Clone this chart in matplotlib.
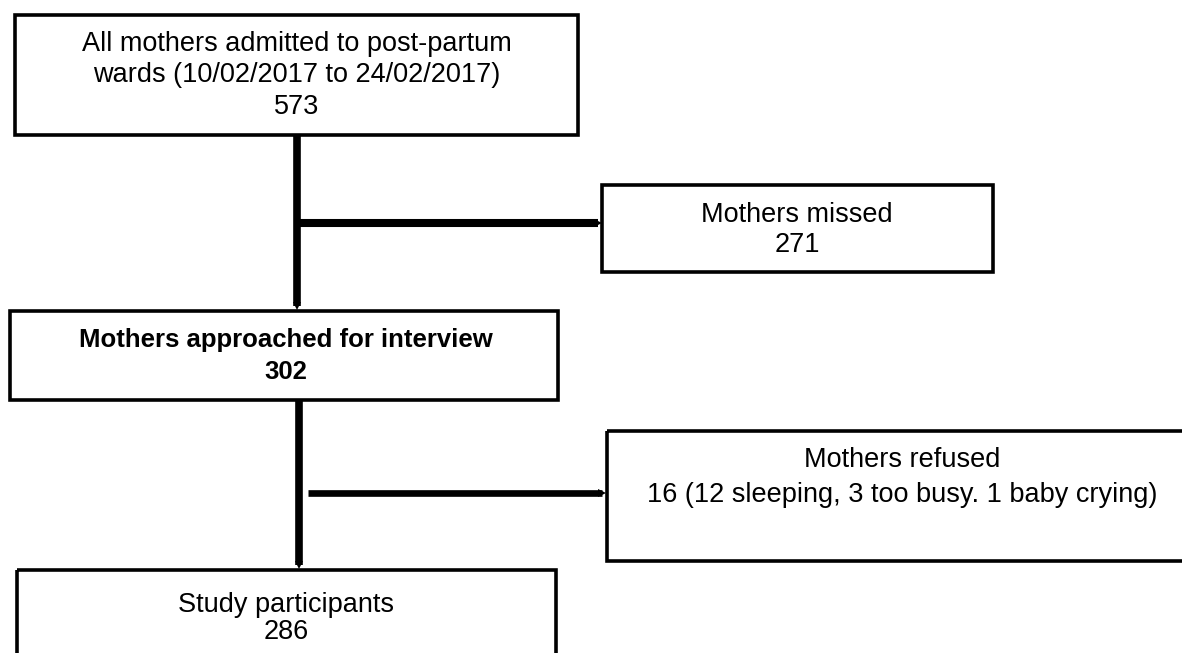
import matplotlib
matplotlib.use("Agg")
import matplotlib.pyplot as plt
from matplotlib.patches import Rectangle

# flow chart data
stages = [
    "All mothers admitted to post-partum\nwards (10/02/2017 to 24/02/2017)",
    "Mothers missed",
    "Mothers approached for interview",
    "Mothers refused",
    "Study participants",
]
counts = ["573", "271", "302", "16 (12 sleeping, 3 too busy. 1 baby crying)", "286"]
bold_stage = [False, False, True, False, False]

# layout in pixels: (left, top, right, bottom), text centre x, first line y
boxes = [
    (15, 15, 578, 135),
    (602, 185, 993, 272),
    (10, 311, 558, 400),
    (607, 431, 1200, 561),
    (17, 570, 556, 720),
]
text_x = [297, 797, 286, 902, 286]
text_y = [44, 215, 340, 460, 605]
line_step = [31.5, 30, 32, 35, 27]

plt.rcParams["font.family"] = ["Liberation Sans", "DejaVu Sans"]

fig = plt.figure(figsize=(11.82, 6.53), dpi=100)
ax = fig.add_axes([0, 0, 1, 1])
ax.set_xlim(0, 1182)
ax.set_ylim(653, 0)
ax.axis("off")

for i, (l, t, r, b) in enumerate(boxes):
    ax.add_patch(Rectangle((l, t), r - l, b - t, fill=False, ec="black",
                           lw=2.6, joinstyle="miter", clip_on=True))
    lines = stages[i].split("\n") + [counts[i]]
    for k, s in enumerate(lines):
        ax.text(text_x[i], text_y[i] + k * line_step[i], s, ha="center",
                va="center", fontsize=18.5 if bold_stage[i] else 19.5,
                fontweight="bold" if bold_stage[i] else "normal")


def arrow(x0, y0, x1, y1, lw):
    ax.plot([x0, x1], [y0, y1], color="black", lw=lw, solid_capstyle="butt")
    mk = ">" if x1 > x0 else "v"
    ax.plot([x1], [y1], marker=mk, color="black", ms=6, mew=0)


# trunk 1 and branch to "missed"
arrow(297, 135, 297, 306, 5.5)
arrow(297, 223, 598, 223, 5.8)
# trunk 2 and branch to "refused"
arrow(299, 400, 299, 565, 5.5)
arrow(308, 493, 602, 493, 4.8)

fig.savefig("out.png", dpi=100, facecolor="white")
